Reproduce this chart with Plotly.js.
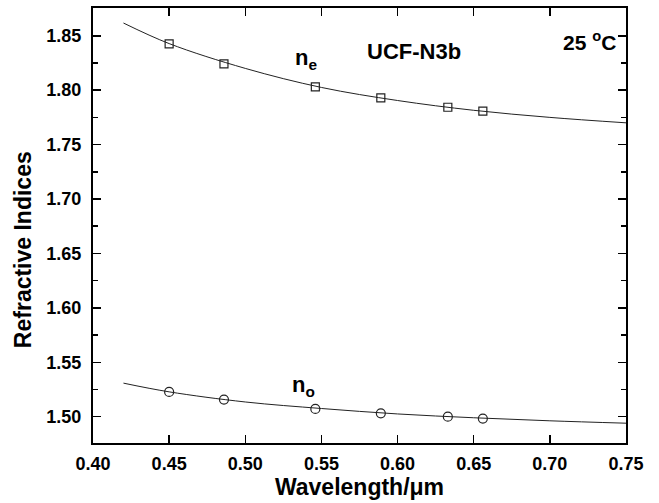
<!DOCTYPE html>
<html>
<head>
<meta charset="utf-8">
<script src="https://cdn.plot.ly/plotly-3.0.1.min.js"></script>
<style>html,body{margin:0;padding:0;background:#fff;}#chart{width:659px;height:503px;}</style>
</head>
<body>
<div id="chart"></div>
<script>
// measured points
const wavelengths = [0.450, 0.486, 0.546, 0.589, 0.633, 0.656];
const neMeasured = [1.8426, 1.8242, 1.8030, 1.7929, 1.7843, 1.7807];
const noMeasured = [1.5227, 1.5157, 1.5071, 1.5031, 1.5000, 1.4982];
// fitted curves
const fitWavelengths = [0.42, 0.45, 0.50, 0.55, 0.60, 0.65, 0.70, 0.75];
const neFit = [1.8617, 1.8428, 1.8200, 1.8025, 1.7905, 1.7815, 1.7750, 1.7700];
const noFit = [1.5308, 1.5228, 1.5135, 1.5075, 1.5025, 1.4990, 1.4962, 1.4940];
const xTicks = [0.40, 0.45, 0.50, 0.55, 0.60, 0.65, 0.70, 0.75];

const FONT = 'Liberation Sans, Arial, Helvetica, sans-serif';
const traces = [
  {x: fitWavelengths, y: neFit, mode: 'lines', line: {color: '#222', width: 1, shape: 'spline'}, hoverinfo: 'skip'},
  {x: fitWavelengths, y: noFit, mode: 'lines', line: {color: '#222', width: 1, shape: 'spline'}, hoverinfo: 'skip'},
  {x: wavelengths, y: neMeasured, mode: 'markers', marker: {symbol: 'square-open', size: 8, color: '#222', line: {width: 1.2}}},
  {x: wavelengths, y: noMeasured, mode: 'markers', marker: {symbol: 'circle-open', size: 9, color: '#222', line: {width: 1.2}}}
];

const layout = {
  width: 659, height: 503,
  margin: {l: 93, r: 33, t: 8, b: 60},
  paper_bgcolor: '#fff', plot_bgcolor: '#fff',
  showlegend: false,
  font: {family: FONT, color: '#000'},
  xaxis: {
    range: [0.40, 0.75], tickvals: xTicks, tickformat: '.2f',
    ticks: 'inside', ticklen: 8, tickwidth: 1.5, tickcolor: '#000',
    showline: true, linewidth: 2, linecolor: '#000', mirror: 'ticks',
    showgrid: false, zeroline: false,
    tickfont: {size: 18, weight: 'bold', family: FONT},
    ticklabelstandoff: 3,
    title: {text: 'Wavelength/μm', font: {size: 23, weight: 'bold', family: FONT}, standoff: 4}
  },
  yaxis: {
    range: [1.4758, 1.8755], tick0: 1.5, dtick: 0.05, tickformat: '.2f',
    ticks: 'inside', ticklen: 8, tickwidth: 1.5, tickcolor: '#000',
    minor: {dtick: 0.025, ticks: 'inside', ticklen: 5, tickwidth: 1.5, tickcolor: '#000'},
    showline: true, linewidth: 2, linecolor: '#000', mirror: 'ticks',
    showgrid: false, zeroline: false,
    tickfont: {size: 18, weight: 'bold', family: FONT},
    ticklabelstandoff: 6
  },
  annotations: [
    {xref: 'paper', yref: 'paper', x: -0.13, y: 0.445, xanchor: 'center', yanchor: 'middle', textangle: -90,
     text: '<b>Refractive Indices</b>', showarrow: false, font: {size: 23, family: FONT}},
    {x: 0.5398, y: 1.829, xref: 'x', yref: 'y', text: '<b>n<sub>e</sub></b>', showarrow: false, font: {size: 22, family: FONT}},
    {x: 0.6105, y: 1.8359, xref: 'x', yref: 'y', text: '<b>UCF-N3b</b>', showarrow: false, font: {size: 22, family: FONT}},
    {x: 0.7447, y: 1.845, xref: 'x', yref: 'y', xanchor: 'right', text: '<b>25 <sup>o</sup>C</b>', showarrow: false, font: {size: 21, family: FONT}},
    {x: 0.5385, y: 1.5285, xref: 'x', yref: 'y', text: '<b>n<sub>o</sub></b>', showarrow: false, font: {size: 22, family: FONT}}
  ]
};
Plotly.newPlot('chart', traces, layout, {displayModeBar: false, staticPlot: true});
</script>
</body>
</html>
